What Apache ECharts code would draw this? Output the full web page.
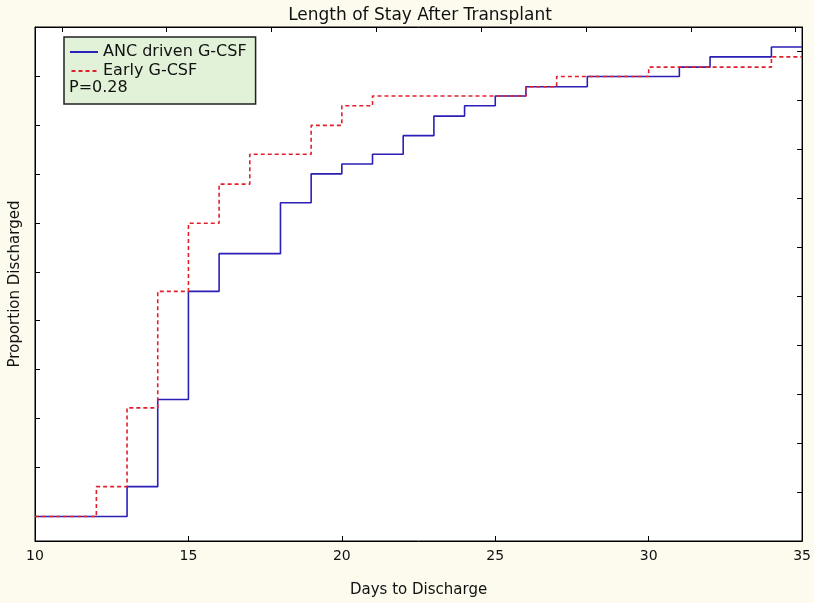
<!DOCTYPE html>
<html>
<head>
<meta charset="utf-8">
<script src="https://cdn.jsdelivr.net/npm/echarts@6/dist/echarts.min.js"></script>
<style>
  html, body { margin: 0; padding: 0; background: #fdfbee; }
  #chart { width: 814px; height: 603px; }
</style>
</head>
<body>
<div id="chart"></div>
<script>
// step points: [day, proportion discharged after that day]
const ancDays = [10, 13, 14, 15, 16, 18, 19, 20, 21, 22, 23, 24, 25, 26, 28, 31, 32, 34, 35];
const ancProp = [0, 0.061, 0.239, 0.46, 0.537, 0.641, 0.70, 0.72, 0.74, 0.778, 0.818, 0.839, 0.859, 0.878, 0.899, 0.918, 0.939, 0.959, 0.959];

const earlyDays = [10, 12, 13, 14, 15, 16, 17, 19, 20, 21, 26, 27, 30, 34, 35];
const earlyProp = [0, 0.061, 0.222, 0.46, 0.599, 0.679, 0.74, 0.799, 0.839, 0.859, 0.878, 0.899, 0.918, 0.939, 0.939];

const seriesNames = ['ANC driven G-CSF', 'Early G-CSF'];
const pValueText = 'P=0.28';

const zip = (xs, ys) => xs.map((x, i) => [x, ys[i]]);

const chart = echarts.init(document.getElementById('chart'));

const font = 'DejaVu Sans, sans-serif';
const blue = '#2a1fb6';
const red = '#e2202c';

// plain line icons for the legend (solid / dashed)
const solidIcon = 'path://M0,0h28v2h-28z';
const dashIcon = 'path://M0,0h4v2h-4z M7,0h4v2h-4z M14,0h4v2h-4z M21,0h4v2h-4z';

const option = {
  backgroundColor: '#fdfbee',
  animation: false,
  title: {
    text: 'Length of Stay After Transplant',
    left: 415,
    textAlign: 'center',
    top: 2,
    textStyle: { fontFamily: font, fontSize: 17, fontWeight: 'normal', color: '#111' }
  },
  grid: {
    left: 33, right: 9, top: 27, bottom: 61,
    show: true,
    backgroundColor: '#ffffff',
    borderColor: '#000',
    borderWidth: 1
  },
  legend: {
    orient: 'vertical',
    left: 64,
    top: 37,
    itemWidth: 28,
    itemHeight: 2,
    itemGap: 3,
    padding: [7, 9, 25, 6],
    backgroundColor: '#e2f2d8',
    borderColor: '#222',
    borderWidth: 1.5,
    textStyle: { fontFamily: font, fontSize: 16, color: '#111' },
    data: [
      { name: seriesNames[0], icon: solidIcon, itemStyle: { color: blue } },
      { name: seriesNames[1], icon: dashIcon, itemStyle: { color: red } }
    ]
  },
  graphic: [{
    type: 'text',
    left: 69,
    top: 80,
    z: 100,
    style: { text: pValueText, font: '16px ' + font, fill: '#111' }
  }],
  xAxis: [
    {
      type: 'value',
      position: 'bottom',
      min: 10, max: 35, interval: 5,
      name: 'Days to Discharge',
      nameLocation: 'middle',
      nameGap: 42,
      nameTextStyle: { fontFamily: font, fontSize: 15, color: '#111' },
      axisLine: { onZero: false, lineStyle: { color: '#000', width: 1 } },
      axisTick: { inside: true, length: 5, lineStyle: { color: '#000' } },
      axisLabel: { fontFamily: font, fontSize: 14, color: '#111', margin: 8 },
      splitLine: { show: false }
    },
    {
      // top edge carries its own tick scale, no labels
      type: 'value',
      position: 'top',
      min: -0.256, max: 7.062, splitNumber: 7,
      axisLine: { onZero: false, lineStyle: { color: '#000', width: 1 } },
      axisTick: { show: true, inside: true, length: 5, lineStyle: { color: '#000' } },
      axisLabel: { show: false },
      splitLine: { show: false }
    }
  ],
  yAxis: [
    {
      type: 'value',
      position: 'left',
      min: -0.05, max: 1.0, splitNumber: 10,
      name: 'Proportion Discharged',
      nameLocation: 'middle',
      nameGap: 12,
      nameTextStyle: { fontFamily: font, fontSize: 15, color: '#111' },
      axisLine: { show: true, onZero: false, lineStyle: { color: '#000', width: 1 } },
      axisTick: { show: true, inside: true, length: 5, lineStyle: { color: '#000' } },
      axisLabel: { show: false },
      splitLine: { show: false }
    },
    {
      type: 'value',
      position: 'right',
      min: 0, max: 1.05, interval: 0.1,
      axisLine: { show: true, onZero: false, lineStyle: { color: '#000', width: 1 } },
      axisTick: { show: true, inside: true, length: 5, lineStyle: { color: '#000' } },
      axisLabel: { show: false },
      splitLine: { show: false }
    }
  ],
  series: [
    {
      name: seriesNames[0],
      type: 'line',
      step: 'end',
      xAxisIndex: 0,
      yAxisIndex: 0,
      symbol: 'none',
      color: blue,
      lineStyle: { color: blue, width: 1.6 },
      data: zip(ancDays, ancProp),
      z: 2
    },
    {
      name: seriesNames[1],
      type: 'line',
      step: 'end',
      xAxisIndex: 0,
      yAxisIndex: 0,
      symbol: 'none',
      color: red,
      lineStyle: { color: red, width: 1.6, type: [4, 3] },
      data: zip(earlyDays, earlyProp),
      z: 3
    }
  ]
};

chart.setOption(option);
</script>
</body>
</html>
